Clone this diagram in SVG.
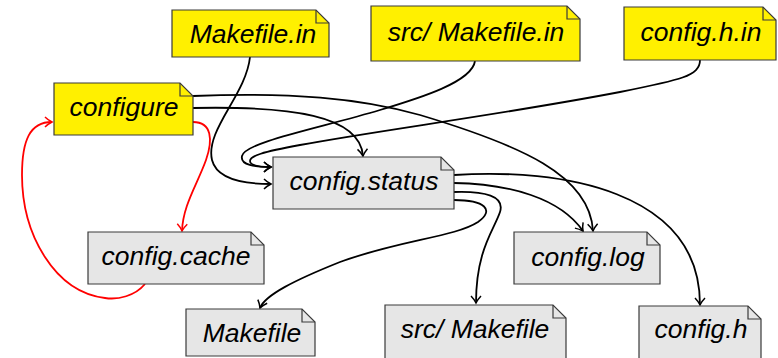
<svg xmlns="http://www.w3.org/2000/svg" width="778" height="358" viewBox="0 0 778 358">
<style>
.src{fill:#fff000;stroke:#3a3a3a;stroke-width:1.2}
.gen{fill:#e6e6e6;stroke:#3a3a3a;stroke-width:1.2}
.fold{fill:none;stroke:#3a3a3a;stroke-width:1.2}
text{font-family:"Liberation Sans",Arial,sans-serif;font-style:italic;font-size:26.5px;fill:#000;text-anchor:middle}
.e{fill:none;stroke:#000;stroke-width:1.8;marker-end:url(#ab)}
.r{fill:none;stroke:#ff0000;stroke-width:1.8;marker-end:url(#ar)}
</style>
<defs>
<marker id="ab" markerUnits="userSpaceOnUse" viewBox="-10 -7 12 14" markerWidth="12" markerHeight="14" refX="0" refY="0" orient="auto" overflow="visible">
<path d="M-7,-5 C-4,-2 -1,-0.5 0,0 C-1,0.5 -4,2 -7,5" fill="none" stroke="#000" stroke-width="1.5"/>
</marker>
<marker id="ar" markerUnits="userSpaceOnUse" viewBox="-10 -7 12 14" markerWidth="12" markerHeight="14" refX="0" refY="0" orient="auto" overflow="visible">
<path d="M-7,-5 C-4,-2 -1,-0.5 0,0 C-1,0.5 -4,2 -7,5" fill="none" stroke="#ff0000" stroke-width="1.5"/>
</marker>
</defs>

<g id="edges">
<path class="e" d="M250,57 C246,95 205,130 212,160 C217,180 245,184 271,184"/>
<path class="e" d="M475,61 C472,82 420,98 380,110 C320,128 245,142 242,156 C240,165 255,167 271,167"/>
<path class="e" d="M700,60 C700,76 680,80 620,92 C500,115 380,130 300,145 C262,152 250,156 250,161 C250,166 260,167 271,167"/>
<path class="e" d="M193,108 C290,106 360,115 363,156"/>
<path class="e" d="M193,96 C290,92 360,98 420,115 C520,145 590,175 593,231"/>
<path class="e" d="M454,183 C510,184 560,198 583,231"/>
<path class="e" d="M454,175 C560,168 700,190 700,305"/>
<path class="e" d="M454,192 C485,191 505,196 500,212 C494,230 476,250 476,303"/>
<path class="e" d="M454,200 C485,200 495,210 478,222 C455,237 400,240 340,262 C295,280 265,295 260,308"/>
<path class="r" d="M193,122 C212,122 213,140 206,160 C197,185 183,205 182,231"/>
<path class="r" d="M145,284 C135,296 118,300 105,298 C55,292 22,235 22,175 C22,140 30,122 52,122"/>
</g>

<g id="makefile-in">
<path class="src" d="M172,10 H316 L329,23 V57 H172 Z"/>
<path class="fold" d="M316,10 V23 H329"/>
<text x="253" y="43">Makefile.in</text>
</g>
<g id="src-makefile-in">
<path class="src" d="M371,6 H567 L580,19 V61 H371 Z"/>
<path class="fold" d="M567,6 V19 H580"/>
<text x="476" y="41">src/ Makefile.in</text>
</g>
<g id="config-h-in">
<path class="src" d="M624,7 H763 L776,20 V60 H624 Z"/>
<path class="fold" d="M763,7 V20 H776"/>
<text x="701" y="41">config.h.in</text>
</g>
<g id="configure">
<path class="src" d="M54,83 H180 L193,96 V135 H54 Z"/>
<path class="fold" d="M180,83 V96 H193"/>
<text x="124" y="116">configure</text>
</g>
<g id="config-status">
<path class="gen" d="M273,157 H441 L454,170 V209 H273 Z"/>
<path class="fold" d="M441,157 V170 H454"/>
<text x="364" y="190">config.status</text>
</g>
<g id="config-cache">
<path class="gen" d="M88,232 H251 L264,245 V284 H88 Z"/>
<path class="fold" d="M251,232 V245 H264"/>
<text x="176" y="265">config.cache</text>
</g>
<g id="config-log">
<path class="gen" d="M514,232 H647 L660,245 V284 H514 Z"/>
<path class="fold" d="M647,232 V245 H660"/>
<text x="588" y="266">config.log</text>
</g>
<g id="makefile">
<path class="gen" d="M186,309 H302 L315,322 V356 H186 Z"/>
<path class="fold" d="M302,309 V322 H315"/>
<text x="252" y="342">Makefile</text>
</g>
<g id="src-makefile">
<path class="gen" d="M385,305 H553 L566,318 V362 H385 Z"/>
<path class="fold" d="M553,305 V318 H566"/>
<text x="475" y="338">src/ Makefile</text>
</g>
<g id="config-h">
<path class="gen" d="M639,306 H748 L761,319 V362 H639 Z"/>
<path class="fold" d="M748,306 V319 H761"/>
<text x="701" y="338">config.h</text>
</g>
</svg>
